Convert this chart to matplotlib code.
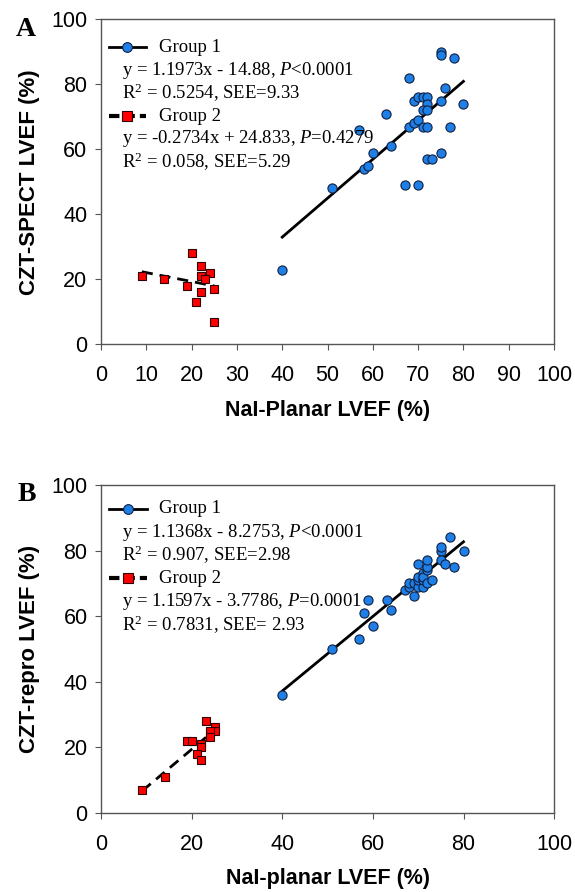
import numpy as np
import matplotlib
matplotlib.use("Agg")
from matplotlib import pyplot as plt
from matplotlib.lines import Line2D

# panel A: NaI-planar vs CZT-SPECT
a_g1_x = [40, 51, 57, 58, 59, 60, 63, 64, 67, 70, 68, 68, 69, 70, 69, 70, 71,
          72, 72, 71, 72, 71, 72, 72, 73, 75, 75, 78, 76, 75, 80, 77, 75]
a_g1_y = [23, 48, 66, 54, 55, 59, 71, 61, 49, 49, 82, 67, 68, 69, 75, 76, 76,
          76, 74, 72, 72, 67, 67, 57, 57, 90, 89, 88, 79, 75, 74, 67, 59]
a_g2_x = [9, 14, 19, 20, 22, 22, 24, 23, 22, 25, 21, 25]
a_g2_y = [21, 20, 18, 28, 24, 21, 22, 20, 16, 17, 13, 7]

# panel B: NaI-planar vs CZT-repro
b_g1_x = [40, 51, 57, 58, 59, 60, 63, 64, 67, 68, 68, 69, 69, 70, 70, 70, 70,
          71, 71, 71, 71, 72, 72, 72, 72, 73, 75, 75, 75, 76, 77, 78, 80]
b_g1_y = [36, 50, 53, 61, 65, 57, 65, 62, 68, 69, 70, 66, 70, 76, 69, 71, 72,
          69, 71, 73, 72, 70, 74, 75, 77, 71, 80, 81, 77, 76, 84, 75, 80]
b_g2_x = [9, 14, 19, 20, 23, 25, 25, 24, 24, 22, 22, 21, 22]
b_g2_y = [7, 11, 22, 22, 28, 26, 25, 25, 23, 21, 20, 18, 16]

# regression lines (slope, intercept) as printed
a_fit = [(1.1973, -14.88), (-0.2734, 24.833)]
b_fit = [(1.1368, -8.2753), (1.1597, -3.7786)]

a_text = ["y = 1.1973x - 14.88, $\\it{P}$<0.0001", "R$^2$ = 0.5254, SEE=9.33",
          "y = -0.2734x + 24.833, $\\it{P}$=0.4279", "R$^2$ = 0.058, SEE=5.29"]
b_text = ["y = 1.1368x - 8.2753, $\\it{P}$<0.0001", "R$^2$ = 0.907, SEE=2.98",
          "y = 1.1597x - 3.7786, $\\it{P}$=0.0001", "R$^2$ = 0.7831, SEE= 2.93"]

blue = '#1E7FE6'
red = '#FF0000'
sans = 'Liberation Sans'
serif = 'Liberation Serif'
plt.rcParams['mathtext.fontset'] = 'custom'
plt.rcParams['mathtext.rm'] = serif
plt.rcParams['mathtext.it'] = serif + ':italic'

fig = plt.figure(figsize=(5.75, 8.92), dpi=100)
axA = fig.add_axes([0.1757, 0.6138, 0.7878, 0.3646])
axB = fig.add_axes([0.1765, 0.0889, 0.7870, 0.3674])


def panel(ax, g1x, g1y, g2x, g2y, fits, texts, xstep, xlabel, ylabel, letter, ytop):
    # fitted lines over each group's x range
    for (m, c), xs, ls in zip(fits, [g1x, g2x], ['-', (0, (4, 2.5))]):
        xx = np.array([min(xs), max(xs)])
        ax.plot(xx, m * xx + c, color='black', lw=2, ls=ls, zorder=2)
    ax.plot(g1x, g1y, 'o', ms=6.6, mfc=blue, mec='#102040', mew=0.8, zorder=3)
    ax.plot(g2x, g2y, 's', ms=6.3, mfc=red, mec='#300000', mew=0.8, zorder=3)

    ax.set_xlim(0, 100)
    ax.set_ylim(0, 100)
    ax.set_xticks(np.arange(0, 101, xstep))
    ax.set_yticks(np.arange(0, 101, 20))
    for s in ax.spines.values():
        s.set_color('#555555')
        s.set_linewidth(1)
    ax.tick_params(direction='out', length=4, color='#555555', labelsize=15.5)
    ax.tick_params(axis='x', pad=11)
    ax.tick_params(axis='y', pad=6)
    for lab in ax.get_xticklabels() + ax.get_yticklabels():
        lab.set_family(sans)
    ax.set_xlabel(xlabel, fontsize=15.5, fontweight='bold', family=sans, labelpad=10)
    ax.set_ylabel(ylabel, fontsize=16, fontweight='bold', family=sans, labelpad=8)

    # legend block
    tr = ax.transAxes
    step = 0.0705
    rows = [ytop - i * step for i in range(6)]
    ax.add_line(Line2D([0.017, 0.1], [rows[0]] * 2, transform=tr, color='black', lw=2))
    ax.add_line(Line2D([0.058], [rows[0]], transform=tr, marker='o', ms=7,
                       mfc=blue, mec='#102040', mew=0.8))
    ax.add_line(Line2D([0.017, 0.1], [rows[3]] * 2, transform=tr, color='black',
                       lw=3, ls=(0, (2.5, 1.2))))
    ax.add_line(Line2D([0.058], [rows[3]], transform=tr, marker='s', ms=7,
                       mfc=red, mec='#300000', mew=0.8))
    fs = 13.5
    ax.text(0.128, rows[0], 'Group 1', transform=tr, family=serif, fontsize=fs, va='center')
    ax.text(0.128, rows[3], 'Group 2', transform=tr, family=serif, fontsize=fs, va='center')
    for r, t in zip([rows[1], rows[2], rows[4], rows[5]], texts):
        ax.text(0.046, r, t, transform=tr, family=serif, fontsize=fs, va='center')
    ax.text(-0.165, 0.97, letter, transform=tr, family=serif, fontsize=20,
            fontweight='bold', va='center', ha='center')


panel(axA, a_g1_x, a_g1_y, a_g2_x, a_g2_y, a_fit, a_text, 10,
      'NaI-Planar LVEF (%)', 'CZT-SPECT LVEF (%)', 'A', 0.914)
panel(axB, b_g1_x, b_g1_y, b_g2_x, b_g2_y, b_fit, b_text, 20,
      'NaI-planar LVEF (%)', 'CZT-repro LVEF (%)', 'B', 0.927)

fig.savefig('out.png', dpi=100)
